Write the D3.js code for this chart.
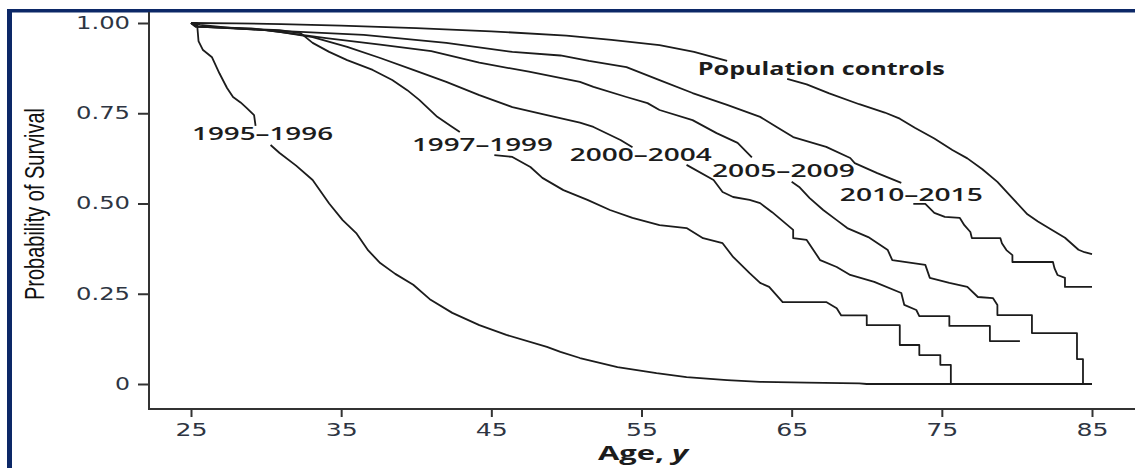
<!DOCTYPE html>
<html>
<head>
<meta charset="utf-8">
<script src="https://cdn.jsdelivr.net/npm/d3@7"></script>
<style>
  html, body { margin: 0; padding: 0; background: #fff; }
  svg { display: block; }
</style>
</head>
<body>
<svg id="chart"></svg>
<script>
// tick values
const ageTicks = [25, 35, 45, 55, 65, 75, 85];
const survivalTicks = [0, 0.25, 0.5, 0.75, 1];

// survival curves, [age, probability]; null = break where the label sits
const popControls = [
  [25, 1.0], [28, 0.999], [31, 0.997], [35, 0.993], [40, 0.986], [45, 0.977], [50, 0.965],
  [53, 0.953], [56.2, 0.939], [58.5, 0.92], [60.7, 0.895],
  null,
  [64.7, 0.845], [66, 0.83], [67.5, 0.805], [69.5, 0.775], [71.2, 0.752], [72.2, 0.735],
  [73.2, 0.71], [74.5, 0.68], [75.7, 0.648], [76.7, 0.625], [77.7, 0.595], [78.7, 0.56],
  [79.7, 0.515], [80.7, 0.47], [81.4, 0.45], [82.2, 0.43], [83.2, 0.405], [84.1, 0.372],
  [84.5, 0.365], [85, 0.36]
];
const c1995 = [
  [25, 1], [25.4, 1], [25.5, 0.95], [25.8, 0.925], [26.4, 0.905], [26.9, 0.86], [27.4, 0.82],
  [27.8, 0.795], [28.3, 0.78], [28.7, 0.765], [29.2, 0.745], [29.3, 0.715],
  null,
  [30.3, 0.662], [30.9, 0.64], [32, 0.605], [33.1, 0.565], [34.2, 0.5], [35.1, 0.454],
  [36, 0.418], [36.8, 0.37], [37.6, 0.335], [38.6, 0.305], [39.8, 0.275], [40.9, 0.235],
  [42.4, 0.197], [44.2, 0.163], [46, 0.136], [48.7, 0.103], [49.6, 0.089], [50.9, 0.072],
  [53.4, 0.047], [56, 0.03], [58, 0.019], [60.7, 0.011], [62.9, 0.006], [66, 0.004],
  [69.5, 0.002], [70, 0], [85, 0]
];
const c1997 = [
  [25, 1], [25.3, 0.99], [28, 0.985], [30.9, 0.98], [32.3, 0.972], [33.1, 0.945], [34.2, 0.92],
  [35.4, 0.897], [37.1, 0.87], [38.4, 0.842], [39.4, 0.814], [40.2, 0.787], [41.4, 0.74],
  [42.3, 0.715], [42.9, 0.698],
  null,
  [45.2, 0.634], [46.4, 0.629], [47.6, 0.601], [48.4, 0.571], [49.8, 0.537], [51.4, 0.51],
  [52.9, 0.482], [54.4, 0.46], [56.2, 0.44], [58, 0.432], [59.1, 0.404], [60.4, 0.39],
  [61.1, 0.352], [62.2, 0.307], [62.9, 0.28], [63.5, 0.269], [64.4, 0.227], [67.3, 0.227],
  [68, 0.21], [68.3, 0.19], [70, 0.19], [70, 0.163], [72.2, 0.163], [72.2, 0.108],
  [73.5, 0.108], [73.5, 0.08], [74.9, 0.08], [74.9, 0.053], [75.6, 0.053], [75.6, 0]
];
const c2000 = [
  [25, 1], [25.3, 0.99], [29, 0.985], [31, 0.975], [33.1, 0.961], [35.4, 0.934], [37.6, 0.903],
  [39.8, 0.87], [42, 0.837], [44.2, 0.8], [46.4, 0.767], [48.7, 0.745], [50.9, 0.724],
  [51.8, 0.712], [53.6, 0.676], [54.4, 0.656],
  null,
  [58, 0.607], [59.8, 0.565], [60.4, 0.532], [61.1, 0.518], [62.2, 0.51], [62.9, 0.501],
  [63.7, 0.476], [65.1, 0.427], [65.1, 0.404], [66, 0.399], [66.9, 0.343], [68, 0.324],
  [68.9, 0.302], [70.5, 0.283], [72.3, 0.252], [72.5, 0.219], [73.3, 0.205], [73.5, 0.188],
  [75.5, 0.188], [75.5, 0.161], [78.2, 0.161], [78.2, 0.119], [80.2, 0.119]
];
const c2005 = [
  [25, 1], [25.5, 0.99], [30, 0.98], [31, 0.975], [34, 0.958], [37.6, 0.94], [41, 0.922],
  [44.2, 0.89], [47.5, 0.865], [50.9, 0.837], [51.8, 0.823], [54, 0.795], [55.4, 0.778],
  [56.2, 0.759], [58.4, 0.731], [60, 0.695], [61.4, 0.668], [62.35, 0.628],
  null,
  [65, 0.56], [65.5, 0.546], [66.2, 0.515], [67.1, 0.482], [68, 0.454], [68.7, 0.432],
  [70.1, 0.407], [71.4, 0.371], [71.7, 0.343], [73.9, 0.33], [74.2, 0.294], [75.5, 0.28],
  [76.7, 0.269], [77.4, 0.241], [78.4, 0.238], [78.7, 0.219], [78.7, 0.191], [81, 0.191],
  [81, 0.141], [84, 0.141], [84, 0.069], [84.4, 0.069], [84.4, 0]
];
const c2010 = [
  [25, 1], [25.6, 0.995], [28, 0.985], [30.9, 0.978], [36.5, 0.967], [42, 0.945], [46.4, 0.92],
  [49.6, 0.91], [51.5, 0.895], [54, 0.878], [56.2, 0.842], [58.4, 0.806], [60.7, 0.773],
  [62.9, 0.74], [64, 0.712], [65.1, 0.684], [67.3, 0.657], [68.9, 0.626], [69.2, 0.612],
  [70.7, 0.584], [72.3, 0.557],
  null,
  [73.1, 0.499], [73.9, 0.499], [74.5, 0.474], [75.2, 0.463], [76.2, 0.46], [76.5, 0.44],
  [76.9, 0.421], [77, 0.404], [78.9, 0.404], [79, 0.39], [79.3, 0.371], [79.7, 0.357],
  [79.7, 0.338], [82.4, 0.338], [82.5, 0.321], [82.7, 0.302], [83.2, 0.294], [83.2, 0.269],
  [85, 0.269]
];

// curve labels: text, age and probability where the label starts
const labelText = ["1995–1996", "1997–1999", "2000–2004", "2005–2009", "2010–2015", "Population controls"];
const labelAge = [25.07, 39.71, 50.23, 59.69, 68.21, 58.75];
const labelSurv = [0.676, 0.645, 0.618, 0.573, 0.507, 0.856];

const width = 1135;
const height = 468;
const navy = "#0c2867";
const ink = "#1c1c1c";
const tickInk = "#2e3542";

const svg = d3.select("#chart").attr("width", width).attr("height", height);

// navy frame (top and left)
svg.append("rect").attr("x", 7).attr("y", 9).attr("width", width - 7).attr("height", 3.5).attr("fill", navy);
svg.append("rect").attr("x", 7).attr("y", 9).attr("width", 5).attr("height", height - 9).attr("fill", navy);

const xScale = d3.scaleLinear().domain([25, 85]).range([191, 1092]);
const yScale = d3.scaleLinear().domain([0, 1]).range([384, 23]);

// y axis
const yAxis = d3.axisLeft(yScale)
  .tickValues(survivalTicks)
  .tickSize(11)
  .tickPadding(8)
  .tickFormat((d) => (d === 0 ? "0" : d.toFixed(2)));

const gy = svg.append("g").attr("transform", "translate(149,0)").call(yAxis);
gy.select(".domain").remove();
gy.selectAll(".tick line").attr("stroke", "#333").attr("stroke-width", 2);
gy.selectAll(".tick text")
  .attr("fill", tickInk)
  .style("font-family", "'DejaVu Sans', sans-serif")
  .style("font-size", "17px")
  .attr("textLength", (d) => (d === 0 ? 15 : 54))
  .attr("lengthAdjust", "spacingAndGlyphs");

// x axis
const xAxis = d3.axisBottom(xScale).tickValues(ageTicks).tickSize(8).tickPadding(7);
const gx = svg.append("g").attr("transform", "translate(0,409)").call(xAxis);
gx.select(".domain").remove();
gx.selectAll(".tick line").attr("stroke", "#333").attr("stroke-width", 2);
gx.selectAll(".tick text")
  .attr("fill", tickInk)
  .style("font-family", "'DejaVu Sans', sans-serif")
  .style("font-size", "17px")
  .attr("textLength", 32)
  .attr("lengthAdjust", "spacingAndGlyphs");

// axis lines
svg.append("line").attr("x1", 149).attr("x2", 149).attr("y1", 12).attr("y2", 410)
  .attr("stroke", "#333").attr("stroke-width", 2);
svg.append("line").attr("x1", 148).attr("x2", width).attr("y1", 409).attr("y2", 409)
  .attr("stroke", "#333").attr("stroke-width", 2);

// curves
const line = d3.line()
  .defined((d) => d !== null)
  .x((d) => xScale(d[0]))
  .y((d) => yScale(d[1]));

[popControls, c1995, c1997, c2000, c2005, c2010].forEach((s) => {
  svg.append("path")
    .attr("d", line(s))
    .attr("fill", "none")
    .attr("stroke", ink)
    .attr("stroke-width", 1.8)
    .attr("stroke-linejoin", "round");
});

// curve labels
const labelWidths = [141, 141, 142, 143, 143, 247];
labelText.forEach((t, i) => {
  svg.append("text")
    .attr("x", xScale(labelAge[i]))
    .attr("y", yScale(labelSurv[i]))
    .attr("fill", ink)
    .style("font-family", "'Open Sans', 'DejaVu Sans', sans-serif")
    .style("font-size", "18px")
    .style("font-weight", i === 5 ? "700" : "600")
    .attr("textLength", labelWidths[i])
    .attr("lengthAdjust", "spacingAndGlyphs")
    .text(t);
});

// axis titles
svg.append("text")
  .attr("transform", "translate(44,204) rotate(-90)")
  .attr("text-anchor", "middle")
  .attr("fill", "#111")
  .style("font-family", "'Liberation Sans Narrow', 'Liberation Sans', sans-serif")
  .style("font-size", "28px")
  .attr("textLength", 192)
  .attr("lengthAdjust", "spacingAndGlyphs")
  .text("Probability of Survival");

const xt = svg.append("text")
  .attr("x", 643)
  .attr("y", 460)
  .attr("text-anchor", "middle")
  .attr("fill", ink)
  .style("font-family", "'Open Sans', 'DejaVu Sans', sans-serif")
  .style("font-size", "19px")
  .style("font-weight", "bold")
  .attr("textLength", 90)
  .attr("lengthAdjust", "spacingAndGlyphs");
xt.append("tspan").text("Age, ");
xt.append("tspan").style("font-style", "italic").text("y");
</script>
</body>
</html>
